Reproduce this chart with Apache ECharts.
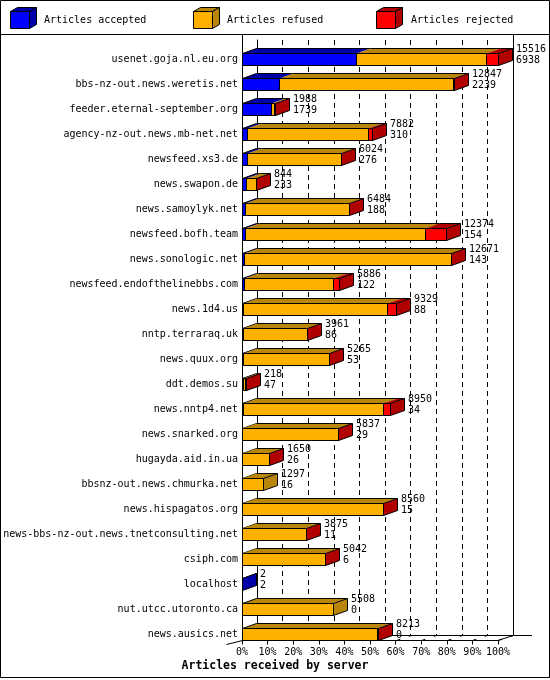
<!DOCTYPE html>
<html><head><meta charset="utf-8">
<script src="https://cdn.jsdelivr.net/npm/echarts@6.0.0/dist/echarts.min.js"></script>
<style>html,body{margin:0;padding:0;background:#fff}#c{width:550px;height:680px}</style>
</head><body><div id="c"></div>
<script>
// ---- data ----
const hosts = [
  'usenet.goja.nl.eu.org','bbs-nz-out.news.weretis.net','feeder.eternal-september.org',
  'agency-nz-out.news.mb-net.net','newsfeed.xs3.de','news.swapon.de','news.samoylyk.net',
  'newsfeed.bofh.team','news.sonologic.net','newsfeed.endofthelinebbs.com','news.1d4.us',
  'nntp.terraraq.uk','news.quux.org','ddt.demos.su','news.nntp4.net','news.snarked.org',
  'hugayda.aid.in.ua','bbsnz-out.news.chmurka.net','news.hispagatos.org',
  'news-bbs-nz-out.news.tnetconsulting.net','csiph.com','localhost','nut.utcc.utoronto.ca',
  'news.ausics.net'
];
const totalArticles    = [15516,12847,1988,7882,6024,844,6484,12374,12671,5886,9329,3961,5265,218,8950,5837,1650,1297,8560,3875,5042,2,5508,8213];
const acceptedArticles = [6938,2239,1739,310,276,233,188,154,143,122,88,86,53,47,34,29,26,16,15,11,6,2,0,0];
const refusedArticles  = [7850,10548,220,7332,5728,601,6281,10910,12508,5364,8696,3865,5202,150,8492,5793,1614,1281,8535,3854,5026,0,5508,8203];
const rejectedArticles = [728,60,29,240,20,10,15,1310,20,400,545,10,10,21,424,15,10,0,10,10,10,0,0,10];
const seriesNames = ['Articles accepted','Articles refused','Articles rejected'];
const xTicks = [0,10,20,30,40,50,60,70,80,90,100];
const axisTitle = 'Articles received by server';

// ---- style ----
const FONT = '"DejaVu Sans Mono","Liberation Mono",monospace';
const colors = ['#0000FF','#FFB000','#FF0000'];
const darks  = ['#0000A8','#B8860B','#B00000'];
const BH = 12, DX = 14, DY = -5;

const maxTotal = Math.max(...totalArticles);
const pct = v => v / maxTotal * 100;
const segs = [acceptedArticles, refusedArticles, rejectedArticles];

function segData(k) {
  return hosts.map((h, i) => {
    let start = 0;
    for (let j = 0; j < k; j++) start += segs[j][i];
    const end = start + segs[k][i];
    let lastK = -1, firstK = -1;
    for (let j = 0; j < 3; j++) if (segs[j][i] > 0) { lastK = j; if (firstK < 0) firstK = j; }
    return [i, pct(start), pct(end), lastK === k ? 1 : 0, firstK === k ? 1 : 0];
  });
}

function segRender(k) {
  return function (params, api) {
    const i = api.value(0), s = api.value(1), e = api.value(2);
    const last = api.value(3), first = api.value(4);
    if (e - s <= 0 && !last) return null;
    const a = api.coord([s, i]), b = api.coord([e, i]);
    const x0 = Math.round(a[0]) + 0.5, x1 = Math.round(b[0]) + 0.5;
    const yT = Math.round(a[1] - BH / 2) + 0.5, yB = yT + BH;
    const ch = [];
    ch.push({type: 'polygon', shape: {points: [[x0, yT], [x1, yT], [x1 + DX, yT + DY], [x0 + DX, yT + DY]]},
      style: {fill: darks[k]}});
    ch.push({type: 'line', shape: {x1: x0 + DX, y1: yT + DY, x2: x1 + DX, y2: yT + DY}, style: {stroke: '#000', lineWidth: 1}});
    if (first) ch.push({type: 'line', shape: {x1: x0, y1: yT, x2: x0 + DX, y2: yT + DY}, style: {stroke: '#000', lineWidth: 1}});
    ch.push({type: 'rect', shape: {x: x0, y: yT, width: x1 - x0, height: BH},
      style: {fill: colors[k], stroke: '#000', lineWidth: 1}});
    if (last) ch.push({type: 'polygon', shape: {points: [[x1, yT], [x1 + DX, yT + DY], [x1 + DX, yB + DY], [x1, yB]]},
      style: {fill: darks[k], stroke: '#000', lineWidth: 1}});
    return {type: 'group', children: ch};
  };
}

function legendBox(x, k) {
  const y = 11.5, w = 19, h = 17, dx = 7, dy = -4;
  return [
    {type: 'polygon', shape: {points: [[x, y], [x + w, y], [x + w + dx, y + dy], [x + dx, y + dy]]}, style: {fill: darks[k], stroke: '#000', lineWidth: 1}},
    {type: 'polygon', shape: {points: [[x + w, y], [x + w + dx, y + dy], [x + w + dx, y + h + dy], [x + w, y + h]]}, style: {fill: darks[k], stroke: '#000', lineWidth: 1}},
    {type: 'rect', shape: {x: x, y: y, width: w, height: h}, style: {fill: colors[k], stroke: '#000', lineWidth: 1}}
  ];
}
const legendX = [10.5, 193.5, 376.5];
const legendTextX = [44, 227, 411];
const graphics = [];
seriesNames.forEach((n, k) => {
  legendBox(legendX[k], k).forEach(g => graphics.push(g));
  graphics.push({type: 'text', x: legendTextX[k], y: 20.5, style: {text: n, font: '10px ' + FONT, fill: '#000', verticalAlign: 'middle'}});
});
graphics.push(
  {type: 'rect', shape: {x: 0.5, y: 0.5, width: 549, height: 677}, style: {fill: 'none', stroke: '#000', lineWidth: 1}, z: 50},
  {type: 'line', shape: {x1: 0, y1: 34.5, x2: 550, y2: 34.5}, style: {stroke: '#000', lineWidth: 1}},
  {type: 'line', shape: {x1: 242.5, y1: 34.5, x2: 242.5, y2: 640.5}, style: {stroke: '#000', lineWidth: 1}},
  {type: 'line', shape: {x1: 226.5, y1: 644.5, x2: 242.5, y2: 640.5}, style: {stroke: '#000', lineWidth: 1}},
  {type: 'line', shape: {x1: 513.5, y1: 34.5, x2: 513.5, y2: 635.5}, style: {stroke: '#000', lineWidth: 1}},
  {type: 'line', shape: {x1: 497.5, y1: 640.5, x2: 513.5, y2: 635.5}, style: {stroke: '#000', lineWidth: 1}},
  {type: 'line', shape: {x1: 513.5, y1: 635.5, x2: 532, y2: 635.5}, style: {stroke: '#000', lineWidth: 1}},
  {type: 'text', x: 275, y: 666.5, style: {text: axisTitle, font: 'bold 11.5px ' + FONT, fill: '#000', align: 'center', verticalAlign: 'middle'}}
);

const chart = echarts.init(document.getElementById('c'), null, {renderer: 'canvas'});
chart.setOption({
  animation: false,
  backgroundColor: '#fff',
  grid: [
    {left: 242, right: 52, top: 46.5, bottom: 33.5},
    {left: 257, right: 37, top: 40, bottom: 45}
  ],
  xAxis: [
    {gridIndex: 0, type: 'value', min: 0, max: 100, interval: 10, offset: -6,
     axisLine: {show: true, lineStyle: {color: '#000', width: 1}},
     axisTick: {show: true, length: 4, lineStyle: {color: '#000'}},
     axisLabel: {formatter: v => xTicks.includes(v) ? v + '%' : '', margin: 7, color: '#000', fontFamily: FONT, fontSize: 10},
     splitLine: {show: false}},
    {gridIndex: 1, type: 'value', min: 0, max: 100, interval: 10,
     axisLine: {show: true, lineStyle: {color: '#000', width: 1}},
     axisTick: {show: false}, axisLabel: {show: false},
     splitLine: {show: true, showMinLine: false, showMaxLine: false, lineStyle: {color: '#000', width: 1, type: [5, 4]}}}
  ],
  yAxis: [
    {gridIndex: 0, type: 'category', data: hosts, inverse: true,
     axisLine: {show: false}, axisTick: {show: false},
     axisLabel: {margin: 4, color: '#000', fontFamily: FONT, fontSize: 10, interval: 0}},
    {gridIndex: 1, type: 'value', min: 0, max: 1,
     axisLine: {show: true, lineStyle: {color: '#000', width: 1}},
     axisTick: {show: false}, axisLabel: {show: false}, splitLine: {show: false}}
  ],
  series: [
    {type: 'custom', name: 'floorTicks', xAxisIndex: 0, yAxisIndex: 0, silent: true,
     data: xTicks.map(v => [v, hosts.length - 1]),
     encode: {x: 0, y: 1},
     renderItem: (params, api) => {
       const p = api.coord([api.value(0), api.value(1)]);
       const x = Math.round(p[0]) + 0.5, y = Math.round(p[1] - BH / 2) + 0.5 + BH;
       return {type: 'line', shape: {x1: x, y1: y, x2: x + 15, y2: y - 5}, style: {stroke: '#000', lineWidth: 1, lineDash: [4, 9]}};
     }},
    ...seriesNames.map((n, k) => ({
      type: 'custom', name: n, xAxisIndex: 0, yAxisIndex: 0,
      data: segData(k), encode: {x: [1, 2], y: 0},
      renderItem: segRender(k)
    })),
    {type: 'custom', name: 'labels', xAxisIndex: 0, yAxisIndex: 0,
     data: hosts.map((h, i) => [i, pct(totalArticles[i])]),
     encode: {x: 1, y: 0},
     renderItem: (params, api) => {
       const i = api.value(0);
       const p = api.coord([api.value(1), i]);
       return {type: 'text', style: {text: totalArticles[i] + '\n' + acceptedArticles[i],
         x: Math.round(p[0]) + 18, y: p[1] - 4, font: '10px ' + FONT, fill: '#000',
         verticalAlign: 'middle', lineHeight: 11}};
     }}
  ],
  graphic: graphics
});
</script></body></html>
